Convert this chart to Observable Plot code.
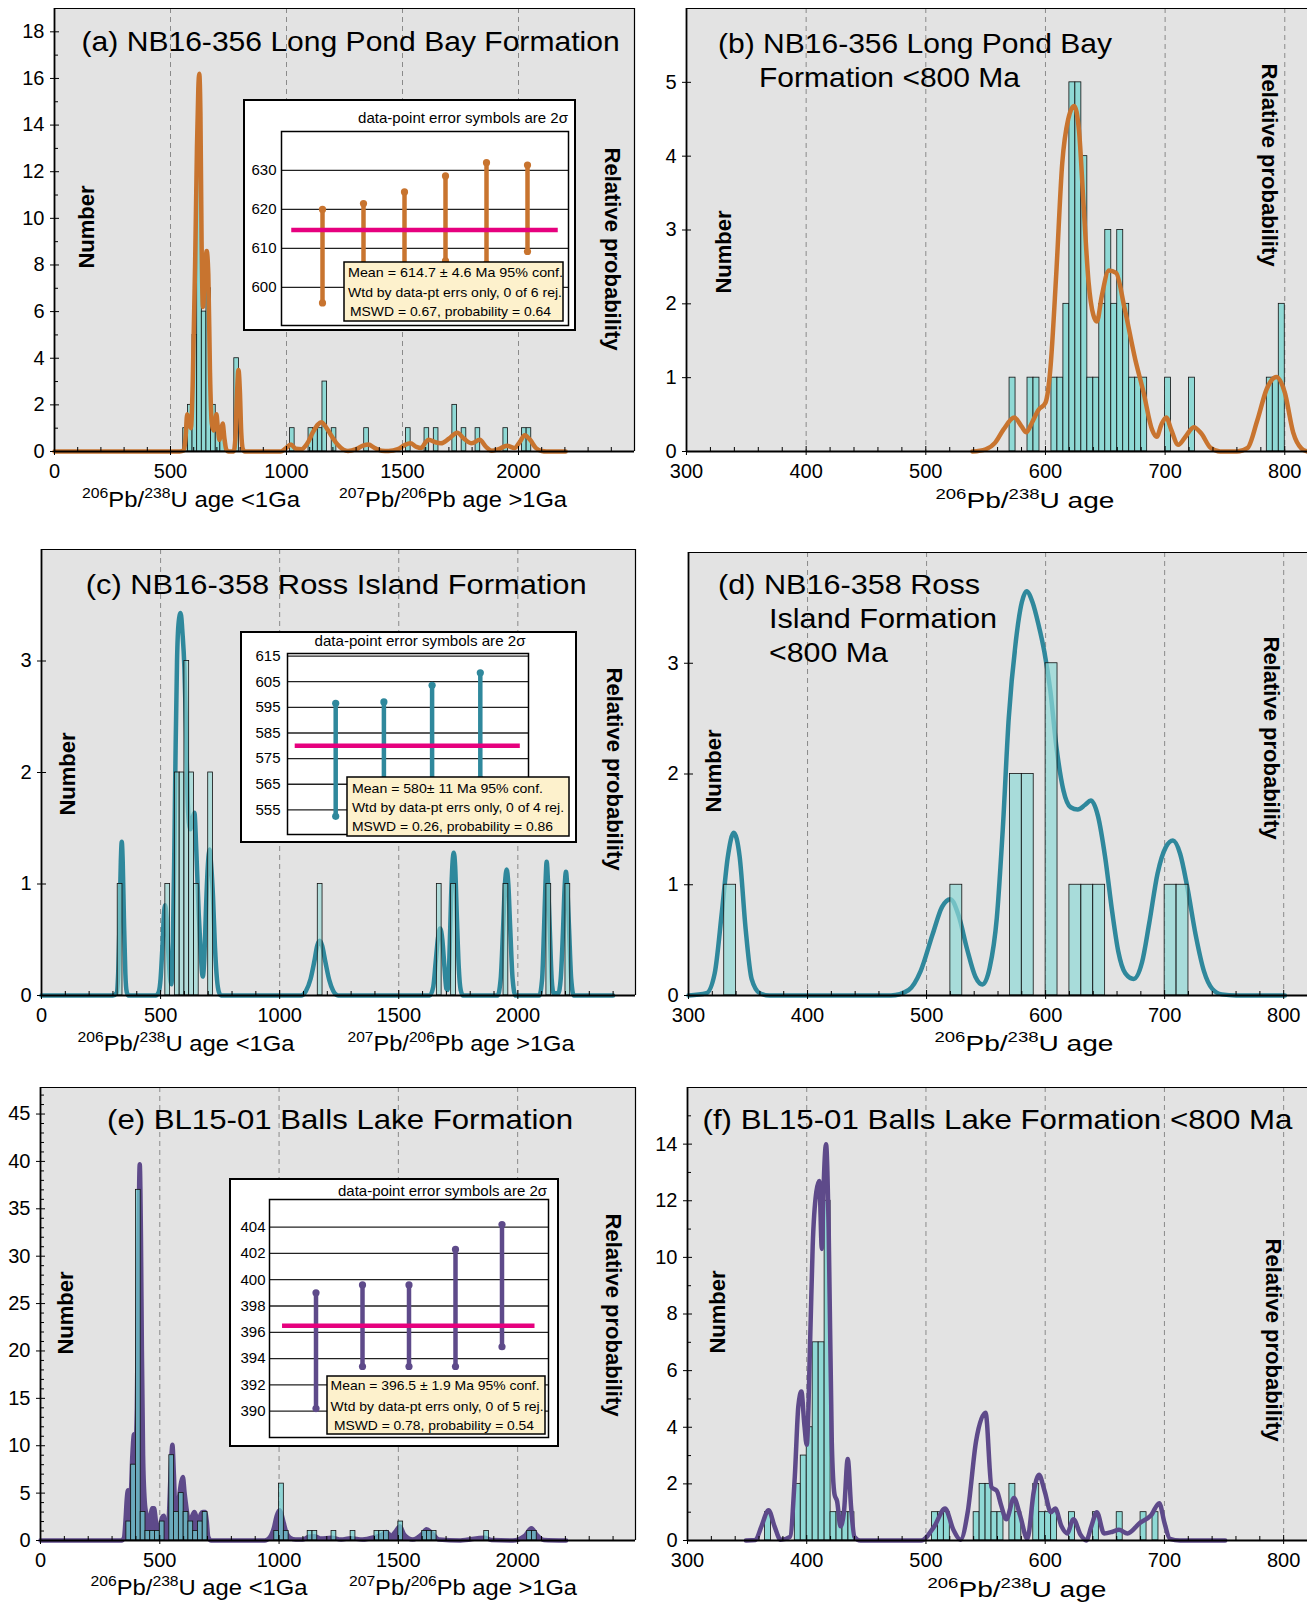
<!DOCTYPE html>
<html><head><meta charset="utf-8">
<script src="https://cdn.jsdelivr.net/npm/d3@7"></script>
<script src="https://cdn.jsdelivr.net/npm/@observablehq/plot@0.6"></script>
<style>
body{margin:0;background:#fff;}
#fig{position:relative;width:1307px;height:1604px;overflow:hidden;font-family:"Liberation Sans",Arial,Helvetica,sans-serif;}
#fig svg{position:absolute;overflow:visible;}
.box{position:absolute;box-sizing:border-box;border:2px solid #000;background:#fff;}
</style></head><body><div id="fig"></div><script>
// ================= DATA =================
// (a) NB16-356, all ages, 20 Ma bins
const aBinWidth = 20;
const aBinStart = [555,575,595,615,635,655,675,695,715,775,1015,1095,1115,1135,1155,1195,1335,1515,1595,1635,1715,1755,1815,1935,2015,2035];
const aCounts   = [1,2,5,13,6,7,2,1,1,4,1,1,1,1,3,1,1,1,1,1,2,1,1,1,1,1];
const aCurve = [[0,0],[540,0],[558,0.05],[565,0.6],[572,1.6],[580,1.25],[588,1.0],[596,3],[606,8],[614,13],[620,15.6],[624,16.2],[629,14.5],[634,9],[640,6.2],[648,7.6],[656,8.6],[663,7.6],[670,3.5],[678,1.2],[686,0.9],[692,1.2],[698,1.6],[704,1.0],[711,0.5],[718,0.9],[725,1.2],[732,0.6],[740,0.1],[750,0],[772,0],[780,0.6],[786,2.3],[793,3.5],[799,2.6],[805,0.8],[812,0.1],[820,0],[975,0],[995,0.12],[1019,0.3],[1040,0.12],[1065,0.1],[1090,0.35],[1115,0.85],[1135,1.15],[1150,1.25],[1170,1.05],[1195,0.65],[1220,0.3],[1245,0.08],[1265,0.02],[1300,0.1],[1330,0.25],[1353,0.3],[1380,0.15],[1410,0.03],[1440,0.02],[1480,0.1],[1510,0.28],[1534,0.35],[1560,0.2],[1580,0.15],[1600,0.4],[1613,0.5],[1640,0.4],[1666,0.35],[1700,0.55],[1736,0.8],[1765,0.55],[1798,0.35],[1833,0.5],[1860,0.2],[1885,0.03],[1915,0.1],[1950,0.25],[1983,0.15],[2005,0.4],[2027,0.7],[2050,0.5],[2075,0.15],[2100,0.02],[2120,0],[2203,0]];
const aXTicks = [0,500,1000,1500,2000];
const aYTicks = [0,2,4,6,8,10,12,14,16,18];
const aInsetTicks = [600,610,620,630];
const aInsetLow  = [596.0,600.5,603.5,606.8,606.0,609.2];
const aInsetHigh = [620.0,621.5,624.5,628.6,632.0,631.4];
const aInsetMean = 614.7;
const aInsetMeanSpan = [0.25,6.75];
const aInsetText = ["Mean  = 614.7 \u00b1  4.6 Ma 95% conf.","Wtd by data-pt errs only, 0 of 6 rej.","MSWD = 0.67, probability = 0.64"];

// (b) NB16-356 <800 Ma, 5 Ma bins
const bBinWidth = 5;
const bBinStart = [570,585,590,605,610,615,620,625,630,635,640,645,650,655,660,665,670,675,680,700,720,785,790,795];
const bCounts   = [1,1,1,1,1,2,5,5,4,1,1,2,3,2,3,2,1,1,1,1,1,1,1,2];
const bCurve = [[539,0],[550,0.03],[558,0.12],[565,0.3],[574,0.46],[580,0.34],[584,0.26],[589,0.4],[594,0.56],[600,0.66],[604,1.1],[609,2.4],[614,3.9],[619,4.5],[624,4.68],[628,4.35],[632,3.3],[636,2.3],[640,1.85],[643,1.76],[647,2.1],[653,2.45],[659,2.42],[666,1.95],[675,1.25],[682,0.8],[689,0.3],[693,0.2],[697,0.37],[701,0.46],[705,0.3],[711,0.09],[717,0.2],[724,0.33],[730,0.25],[738,0.05],[746,0],[760,0],[769,0.05],[777,0.42],[785,0.85],[793,1.01],[800,0.8],[807,0.26],[814,0.04],[819,0]];
const bXTicks = [300,400,500,600,700,800];
const bYTicks = [0,1,2,3,4,5];

// (c) NB16-358, all ages, 20 Ma bins
const cBinWidth = 20;
const cBinStart = [320,520,560,580,600,620,640,700,1160,1660,1720,1940,2120,2200];
const cCounts   = [1,1,2,2,3,2,1,2,1,1,1,1,1,1];
const cCurve = [[0,0],[300,0],[315,0.02],[322,0.2],[328,0.7],[333,1.2],[337,1.38],[341,1.2],[346,0.7],[352,0.2],[358,0.03],[365,0],[480,0],[492,0.03],[500,0.15],[508,0.45],[514,0.72],[519,0.81],[525,0.7],[532,0.4],[540,0.15],[545,0.1],[551,0.4],[557,1.19],[563,2.2],[569,3.0],[576,3.35],[584,3.43],[592,3.25],[600,2.94],[607,2.4],[613,1.79],[619,1.55],[625,1.49],[633,1.58],[642,1.64],[650,1.3],[660,0.74],[668,0.4],[677,0.17],[684,0.35],[690,0.74],[698,1.15],[706,1.31],[713,1.15],[720,0.89],[728,0.45],[737,0.14],[745,0.03],[754,0],[1090,0],[1110,0.04],[1130,0.15],[1145,0.3],[1158,0.45],[1168,0.49],[1178,0.45],[1192,0.3],[1208,0.14],[1225,0.04],[1245,0],[1630,0],[1645,0.08],[1655,0.3],[1665,0.52],[1674,0.6],[1683,0.5],[1692,0.25],[1700,0.06],[1705,0.05],[1712,0.3],[1720,0.9],[1726,1.2],[1731,1.28],[1737,1.15],[1744,0.7],[1752,0.25],[1760,0.05],[1770,0],[1915,0],[1928,0.15],[1938,0.6],[1946,1.0],[1953,1.13],[1960,1.0],[1968,0.6],[1978,0.15],[1990,0],[2090,0],[2102,0.15],[2110,0.6],[2116,1.0],[2121,1.2],[2127,1.0],[2134,0.6],[2142,0.15],[2150,0.02],[2170,0.02],[2180,0.15],[2190,0.6],[2196,0.95],[2202,1.11],[2208,0.95],[2215,0.6],[2224,0.15],[2235,0],[2400,0]];
const cXTicks = [0,500,1000,1500,2000];
const cYTicks = [0,1,2,3];
const cInsetTicks = [555,565,575,585,595,605,615];
const cInsetLow  = [552.5,554,562,567];
const cInsetHigh = [596.6,597.1,603.6,608.5];
const cInsetMean = 580;
const cInsetMeanSpan = [0.16,4.83];
const cInsetText = ["Mean = 580\u00b1 11 Ma  95% conf.","Wtd by data-pt errs only, 0 of 4 rej.","MSWD = 0.26, probability = 0.86"];

// (d) NB16-358 <800 Ma, 10 Ma bins
const dBinWidth = 10;
const dBinStart = [330,520,570,580,600,620,630,640,700,710];
const dCounts   = [1,1,2,2,3,1,1,1,1,1];
const dCurve = [[300,0],[315,0.02],[322,0.2],[328,0.75],[333,1.25],[338,1.47],[343,1.25],[348,0.6],[353,0.15],[360,0.02],[368,0],[470,0],[485,0.05],[495,0.22],[505,0.55],[513,0.8],[520,0.87],[527,0.72],[534,0.42],[541,0.17],[547,0.1],[553,0.25],[559,0.7],[564,1.5],[569,2.5],[575,3.2],[580,3.55],[584,3.65],[589,3.55],[594,3.35],[599,3.1],[604,2.75],[609,2.25],[615,1.85],[621,1.7],[627,1.68],[633,1.72],[638,1.76],[644,1.62],[650,1.25],[656,0.75],[661,0.4],[667,0.2],[674,0.15],[681,0.3],[687,0.65],[694,1.1],[701,1.34],[707,1.4],[713,1.28],[719,0.98],[726,0.55],[733,0.22],[740,0.06],[748,0.01],[760,0],[801,0]];
const dXTicks = [300,400,500,600,700,800];
const dYTicks = [0,1,2,3];

// (e) BL15-01, all ages, 20 Ma bins
const eBinWidth = 20;
const eBinStart = [360,380,400,420,440,460,480,500,540,560,580,600,620,640,660,680,980,1000,1020,1120,1140,1220,1300,1400,1420,1440,1500,1600,1620,1640,1860,2040,2060];
const eCounts   = [2,8,37,3,1,1,1,2,9,3,5,3,2,1,2,3,1,6,1,1,1,1,1,1,1,1,2,1,1,1,1,1,1];
const eCurve = [[0,0],[340,0],[350,0.3],[356,2.0],[362,4.5],[367,5.3],[372,4.5],[378,4.8],[385,9],[392,11.2],[398,10],[404,14],[410,30],[416,39.7],[421,32],[425,20],[430,9],[436,4.5],[442,3.0],[450,2.4],[460,2.6],[468,3.4],[476,3.4],[484,2.0],[492,1.1],[500,1.3],[509,2.4],[517,2.6],[524,1.0],[530,0.4],[538,2.5],[546,7.5],[553,10.1],[559,7.0],[566,3.0],[574,3.3],[582,4.8],[590,6.2],[597,6.7],[604,5.0],[612,3.4],[620,2.2],[628,1.9],[636,2.6],[645,3.0],[654,2.5],[664,2.2],[672,2.8],[680,3.0],[690,3.0],[697,2.0],[703,0.4],[715,0],[940,0],[960,0.3],[978,1.3],[990,2.6],[1002,3.2],[1010,2.8],[1020,1.8],[1030,0.9],[1045,0.3],[1070,0.1],[1100,0.1],[1125,0.4],[1150,0.45],[1175,0.2],[1220,0.3],[1260,0.1],[1300,0.25],[1350,0.1],[1400,0.35],[1430,0.6],[1450,0.9],[1470,0.5],[1490,1.0],[1506,1.5],[1525,0.6],[1560,0.1],[1600,0.7],[1618,1.2],[1640,0.8],[1670,0.1],[1760,0],[1860,0.3],[1890,0.05],[1980,0],[2030,0.5],[2058,1.3],[2080,0.6],[2110,0.05],[2203,0]];
const eXTicks = [0,500,1000,1500,2000];
const eYTicks = [0,5,10,15,20,25,30,35,40,45];
const eInsetTicks = [390,392,394,396,398,400,402,404];
const eInsetLow  = [390.2,393.4,393.4,393.4,394.9];
const eInsetHigh = [399.0,399.6,399.6,402.3,404.2];
const eInsetMean = 396.5;
const eInsetMeanSpan = [0.28,5.71];
const eInsetText = ["Mean = 396.5 \u00b1 1.9 Ma 95% conf.","Wtd by data-pt errs only, 0 of 5 rej.","MSWD = 0.78, probability = 0.54"];

// (f) BL15-01 <800 Ma, 5 Ma bins
const fBinWidth = 5;
const fBinStart = [365,390,395,400,405,410,415,420,425,430,435,505,510,515,540,545,550,555,560,570,575,590,595,600,605,620,640,660,680,690];
const fCounts   = [1,2,3,4,7,7,12,1,1,1,1,1,1,1,1,2,2,1,1,2,1,2,1,1,1,1,1,1,1,1];
const fCurve = [[349,0],[357,0.02],[362,0.5],[368,1.07],[373,0.5],[378,0.03],[386,0.13],[390,2.26],[393,4.76],[395.5,5.26],[398,4.1],[400,3.38],[403,7.27],[405,10.4],[408,12.3],[410.5,12.7],[412.7,10.3],[414,12.3],[416.2,14],[418.4,11],[421,3.5],[423.3,1.63],[425.5,1.38],[428.3,0.5],[431.2,1.0],[434.4,2.88],[437.3,1.13],[440,0.13],[445,0],[496,0],[507,0.5],[516,1.13],[523,0.38],[529,0.03],[535,1.0],[542,3.5],[550,4.51],[555,1.88],[559.5,1.75],[563,1.25],[567.4,0.75],[573.8,1.5],[579,0.88],[585,0.06],[590.5,1.75],[594.8,2.32],[599.5,1.75],[604.8,1.0],[608.4,1.13],[613.7,0.5],[618.4,0.25],[623.7,0.75],[629.8,0.19],[634.4,0],[638.7,0.5],[643.3,1.0],[649.4,0.25],[656.5,0.31],[661.8,0.38],[669,0.25],[679.7,0.63],[688.6,0.88],[695.7,1.32],[700,0.63],[704.6,0.06],[713,0],[751,0]];
const fXTicks = [300,400,500,600,700,800];
const fYTicks = [0,2,4,6,8,10,12,14];

// ================= RENDER =================
const FONT = '"Liberation Sans", Arial, Helvetica, sans-serif';
const ORANGE = "#c8742f", TEAL = "#2f889c", PURPLE = "#5e4a8a", MAGENTA = "#e6007e";
const fig = document.getElementById("fig");

function range(a, b, s, skip) { const r = []; for (let v = a; v <= b + 1e-9; v += s) if (!skip || Math.abs(v % skip) > 1e-9) r.push(v); return r; }

function drawPanel(c) {
  const ml = 50, mr = 8, mt = 8, mb = 42;
  const bars = c.binStart.map((s, i) => ({x1: s, x2: s + c.binWidth, n: c.counts[i]}));
  const barMark = Plot.rectY(bars, {x1: "x1", x2: "x2", y1: 0, y2: "n", fill: c.barFill || "#8fd9d5", fillOpacity: c.barOpacity, stroke: "#111", strokeWidth: 0.8});
  const curveMarks = [];
  if (c.area) curveMarks.push(Plot.areaY(c.curve, {x: d => d[0], y: d => d[1], fill: c.color, curve: "monotone-x"}));
  curveMarks.push(Plot.line(c.curve, {x: d => d[0], y: d => d[1], stroke: c.color, strokeWidth: 4.5, curve: "monotone-x", strokeLinejoin: "round"}));
  const marks = [
    Plot.frame({fill: "#e3e3e3", stroke: "none"}),
    Plot.ruleX(c.grid, {stroke: "#8a8a8a", strokeDasharray: "5,4", strokeWidth: 1})
  ];
  if (c.barsOnTop) marks.push(...curveMarks, barMark); else marks.push(barMark, ...curveMarks);
  marks.push(
    Plot.ruleY([c.yDomain[1]], {stroke: "#000", strokeWidth: 1.2}),
    Plot.ruleX([c.xDomain[0]], {stroke: "#000", strokeWidth: 1.8}),
    Plot.ruleY([0], {stroke: "#000", strokeWidth: 1.8})
  );
  if (c.rightBorder) marks.push(Plot.ruleX([c.xDomain[1]], {stroke: "#000", strokeWidth: 1.2}));
  marks.push(
    Plot.axisX(c.xTicks, {tickSize: 4, tickPadding: 8, label: null, tickFormat: d => String(d)}),
    Plot.axisX(c.xTicks, {tickSize: -5, label: null, tickFormat: () => ""}),
    Plot.axisX(c.xMinor, {tickSize: -4, label: null, tickFormat: () => ""}),
    Plot.axisY(c.yTicks, {tickSize: 4, tickPadding: 6, label: null, tickFormat: d => String(d)}),
    Plot.axisY(c.yTicks, {tickSize: -5, label: null, tickFormat: () => ""})
  );
  if (c.yMinor.length) marks.push(Plot.axisY(c.yMinor, {tickSize: -4, label: null, tickFormat: () => ""}));
  const p = Plot.plot({
    width: c.x1 - c.x0 + ml + mr, height: c.y1 - c.y0 + mt + mb,
    marginLeft: ml, marginRight: mr, marginTop: mt, marginBottom: mb,
    x: {domain: c.xDomain}, y: {domain: c.yDomain},
    style: {fontFamily: FONT, fontSize: "20px", color: "#000", background: "transparent", overflow: "visible"},
    marks
  });
  p.style.left = (c.x0 - ml) + "px"; p.style.top = (c.y0 - mt) + "px";
  fig.append(p);
}

function drawInset(c) {
  const box = document.createElement("div");
  box.className = "box";
  Object.assign(box.style, {left: c.left + "px", top: c.top + "px", width: c.w + "px", height: c.h + "px"});
  fig.append(box);
  const pts = c.low.map((lo, i) => ({i: i + 1, lo, hi: c.high[i]}));
  const p = Plot.plot({
    width: c.w, height: c.h, marginLeft: c.ml, marginRight: c.mr, marginTop: c.mt, marginBottom: c.mb,
    x: {domain: [0, pts.length + 1], axis: null}, y: {domain: c.yDomain},
    style: {fontFamily: FONT, fontSize: "15px", color: "#000", background: "transparent", overflow: "visible"},
    marks: [
      Plot.frame({fill: "#fff", stroke: "none"}),
      Plot.ruleY(c.ticks, {stroke: "#222", strokeWidth: 1.3}),
      Plot.ruleX(pts, {x: "i", y1: "lo", y2: "hi", stroke: c.color, strokeWidth: 4.5}),
      Plot.dot(pts, {x: "i", y: "lo", r: 3.6, fill: c.color}),
      Plot.dot(pts, {x: "i", y: "hi", r: 3.6, fill: c.color}),
      Plot.ruleY([c.mean], {x1: c.meanSpan[0], x2: c.meanSpan[1], stroke: MAGENTA, strokeWidth: 4.5}),
      Plot.frame({stroke: "#000", strokeWidth: 1.5}),
      Plot.axisY(c.ticks, {tickSize: 0, tickPadding: c.pad, label: null, tickFormat: d => String(d)})
    ]
  });
  p.style.left = c.left + "px"; p.style.top = c.top + "px";
  fig.append(p);
}

// panels
drawPanel({x0: 54, x1: 634, y0: 8, y1: 451, xDomain: [0, 2500], yDomain: [0, 19], grid: [500,1000,1500,2000],
  xTicks: aXTicks, xMinor: range(100, 2400, 100, 500), yTicks: aYTicks, yMinor: range(1, 17, 2),
  binStart: aBinStart, counts: aCounts, binWidth: aBinWidth, curve: aCurve, color: ORANGE, barOpacity: 1, barsOnTop: false, rightBorder: true});
drawPanel({x0: 686, x1: 1307, y0: 8, y1: 451, xDomain: [300, 819], yDomain: [0, 6], grid: [400,500,600,700,800],
  xTicks: bXTicks, xMinor: range(320, 780, 20, 100), yTicks: bYTicks, yMinor: [],
  binStart: bBinStart, counts: bCounts, binWidth: bBinWidth, curve: bCurve, color: ORANGE, barOpacity: 1, barsOnTop: false, rightBorder: false});
drawPanel({x0: 41, x1: 635, y0: 549, y1: 995, xDomain: [0, 2494], yDomain: [0, 4], grid: [500,1000,1500,2000],
  xTicks: cXTicks, xMinor: range(100, 2400, 100, 500), yTicks: cYTicks, yMinor: [],
  binStart: cBinStart, counts: cCounts, binWidth: cBinWidth, curve: cCurve, color: TEAL, barOpacity: 0.6, barsOnTop: true, rightBorder: true});
drawPanel({x0: 688, x1: 1307, y0: 552, y1: 995, xDomain: [300, 820], yDomain: [0, 4], grid: [400,500,600,700,800],
  xTicks: dXTicks, xMinor: range(320, 780, 20, 100), yTicks: dYTicks, yMinor: [],
  binStart: dBinStart, counts: dCounts, binWidth: dBinWidth, curve: dCurve, color: TEAL, barOpacity: 0.7, barsOnTop: true, rightBorder: false});
drawPanel({x0: 40, x1: 635, y0: 1087, y1: 1540, xDomain: [0, 2494], yDomain: [0, 47.8], grid: [500,1000,1500,2000],
  xTicks: eXTicks, xMinor: range(100, 2400, 100, 500), yTicks: eYTicks, yMinor: range(1, 47, 1, 5),
  binStart: eBinStart, counts: eCounts, binWidth: eBinWidth, curve: eCurve, color: PURPLE, area: true, barFill: "#6fd0d0", barOpacity: 0.72, barsOnTop: true, rightBorder: true});
drawPanel({x0: 687, x1: 1307, y0: 1087, y1: 1540, xDomain: [300, 820], yDomain: [0, 16], grid: [400,500,600,700,800],
  xTicks: fXTicks, xMinor: range(320, 780, 20, 100), yTicks: fYTicks, yMinor: range(1, 15, 2),
  binStart: fBinStart, counts: fCounts, binWidth: fBinWidth, curve: fCurve, color: PURPLE, barOpacity: 1, barsOnTop: false, rightBorder: false});

// insets
drawInset({left: 243, top: 99, w: 333, h: 232, ml: 38, mr: 8, mt: 32, mb: 6, pad: 5, yDomain: [590.2, 640],
  ticks: aInsetTicks, low: aInsetLow, high: aInsetHigh, mean: aInsetMean, meanSpan: aInsetMeanSpan, color: ORANGE});
drawInset({left: 240, top: 631, w: 337, h: 212, ml: 47, mr: 49, mt: 22, mb: 9, pad: 7, yDomain: [545.4, 616],
  ticks: cInsetTicks, low: cInsetLow, high: cInsetHigh, mean: cInsetMean, meanSpan: cInsetMeanSpan, color: TEAL});
drawInset({left: 229, top: 1178, w: 330, h: 269, ml: 40, mr: 11, mt: 21, mb: 10, pad: 4, yDomain: [388, 406.1],
  ticks: eInsetTicks, low: eInsetLow, high: eInsetHigh, mean: eInsetMean, meanSpan: eInsetMeanSpan, color: PURPLE});

// ================= TEXT OVERLAY =================
const ov = d3.create("svg").attr("width", 1307).attr("height", 1604).attr("font-family", FONT)
  .style("left", "0px").style("top", "0px").style("pointer-events", "none");
function T(x, y, parts, o = {}) {
  const size = o.size || 20;
  const t = ov.append("text").attr("transform", `translate(${x},${y}) rotate(${o.rotate || 0})`)
    .attr("font-size", size).attr("font-weight", o.weight || 400).attr("text-anchor", o.anchor || "start").attr("fill", "#000");
  if (o.len) t.attr("textLength", o.len).attr("lengthAdjust", "spacingAndGlyphs");
  if (typeof parts === "string") parts = [[parts, 0]];
  let shift = 0;
  parts.forEach(([s, sup]) => {
    const target = sup ? -0.42 * size : 0;
    const ts = t.append("tspan").text(s).attr("dy", target - shift);
    if (sup) ts.attr("font-size", 0.66 * size);
    shift = target;
  });
  return t;
}
const labU = [["206",1],["Pb/",0],["238",1],["U age <1Ga",0]];
const labPb = [["207",1],["Pb/",0],["206",1],["Pb age >1Ga",0]];
const labU2 = [["206",1],["Pb/",0],["238",1],["U age",0]];

// titles
T(81.6, 50.5, "(a) NB16-356 Long Pond Bay Formation", {size: 28, len: 538});
T(718, 53, "(b) NB16-356 Long Pond Bay", {size: 28, len: 394});
T(759, 87, "Formation <800 Ma", {size: 28, len: 261});
T(85.7, 594, "(c) NB16-358 Ross Island Formation", {size: 28, len: 501});
T(718, 594, "(d) NB16-358 Ross", {size: 28, len: 262});
T(769, 628, "Island Formation", {size: 28, len: 228});
T(769, 662, "<800 Ma", {size: 28, len: 119});
T(107, 1128.5, "(e) BL15-01 Balls Lake Formation", {size: 28, len: 466});
T(702.5, 1128.5, "(f) BL15-01 Balls Lake Formation <800 Ma", {size: 28, len: 590});

// x-axis titles
T(191, 507, labU, {size: 22, anchor: "middle", len: 218});
T(453, 507, labPb, {size: 22, anchor: "middle", len: 228});
T(1025, 508, labU2, {size: 22, anchor: "middle", len: 179});
T(186, 1051, labU, {size: 22, anchor: "middle", len: 217});
T(461, 1051, labPb, {size: 22, anchor: "middle", len: 227});
T(1024, 1051, labU2, {size: 22, anchor: "middle", len: 179});
T(199, 1595, labU, {size: 22, anchor: "middle", len: 217});
T(463, 1595, labPb, {size: 22, anchor: "middle", len: 228});
T(1017, 1597, labU2, {size: 22, anchor: "middle", len: 179});

// y-axis titles
[[93.7,227],[731,252],[75.3,774],[721,771],[73.3,1313],[724.6,1312]].forEach(([x,y]) =>
  T(x, y, "Number", {size: 22, weight: 700, anchor: "middle", rotate: -90}));
[[605,249],[1262,165],[606.5,769],[1264,738],[606.3,1315],[1266.2,1340]].forEach(([x,y]) =>
  T(x, y, "Relative probability", {size: 22, weight: 700, anchor: "middle", rotate: 90}));

// inset titles
T(568, 123, "data-point error symbols are 2\u03c3", {size: 14.5, anchor: "end", len: 210});
T(420, 646, "data-point error symbols are 2\u03c3", {size: 14.5, anchor: "middle", len: 211});
T(547, 1196, "data-point error symbols are 2\u03c3", {size: 14.5, anchor: "end", len: 209});

// inset statistic boxes
function statBox(x, y, w, h, lines, xs, ys, lens) {
  ov.append("rect").attr("x", x).attr("y", y).attr("width", w).attr("height", h)
    .attr("fill", "#fdf1cc").attr("stroke", "#000").attr("stroke-width", 1.5);
  lines.forEach((s, i) => T(xs[i], ys[i], s, {size: 13.5, len: lens[i]}));
}
statBox(344, 262, 219, 59, aInsetText, [348, 348, 350], [277, 297, 315.5], [215, 214, 201]);
statBox(347, 777, 222, 59, cInsetText, [352, 352, 352], [792.5, 812, 831], [191, 212, 201]);
statBox(327, 1376, 218, 58, eInsetText, [330.6, 330.6, 334], [1390, 1410.5, 1430], [209, 213, 200]);

fig.append(ov.node());
</script></body></html>
